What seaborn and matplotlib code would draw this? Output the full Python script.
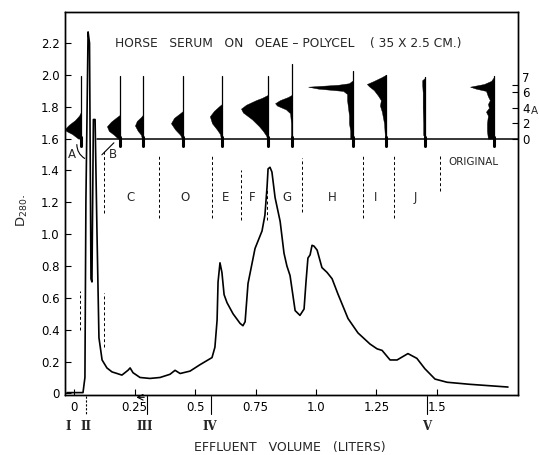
import numpy as np
import pandas as pd
import matplotlib
matplotlib.use("Agg")
import matplotlib.pyplot as plt
import seaborn as sns

# ---------------- data ----------------
volume = [-0.030, 0.036, 0.044, 0.048, 0.057, 0.063, 0.069, 0.073, 0.079, 0.086,
          0.094, 0.102, 0.115, 0.135, 0.156, 0.177, 0.197, 0.222, 0.231, 0.243,
          0.272, 0.313, 0.355, 0.396, 0.417, 0.438, 0.479, 0.520, 0.570, 0.582,
          0.591, 0.595, 0.603, 0.611, 0.620, 0.632, 0.657, 0.686, 0.698, 0.707,
          0.719, 0.748, 0.777, 0.789, 0.798, 0.802, 0.810, 0.818, 0.831, 0.852,
          0.868, 0.880, 0.893, 0.914, 0.934, 0.951, 0.959, 0.967, 0.976, 0.984,
          0.992, 1.005, 1.025, 1.046, 1.067, 1.091, 1.133, 1.174, 1.224, 1.253,
          1.274, 1.307, 1.336, 1.381, 1.418, 1.451, 1.493, 1.543, 1.638, 1.795]
d280 = [0.005, 0.005, 0.10, 1.20, 2.27, 2.20, 0.72, 0.70, 1.72, 1.72,
        1.00, 0.35, 0.21, 0.16, 0.135, 0.125, 0.115, 0.145, 0.16, 0.13,
        0.10, 0.094, 0.10, 0.12, 0.145, 0.125, 0.14, 0.18, 0.225, 0.29,
        0.46, 0.70, 0.82, 0.76, 0.62, 0.57, 0.50, 0.44, 0.425, 0.45,
        0.69, 0.91, 1.02, 1.12, 1.30, 1.41, 1.42, 1.39, 1.23, 1.08,
        0.88, 0.80, 0.74, 0.52, 0.49, 0.53, 0.70, 0.85, 0.87, 0.93,
        0.925, 0.90, 0.79, 0.76, 0.72, 0.625, 0.47, 0.38, 0.31, 0.28,
        0.27, 0.21, 0.21, 0.25, 0.22, 0.155, 0.09, 0.07, 0.057, 0.04]

x_ticks = [0, 0.25, 0.5, 0.75, 1.0, 1.25, 1.5]
x_tick_labels = ["0", "0.25", "0.5", "0.75", "1.0", "1.25", "1.5"]
y_ticks = [0, 0.2, 0.4, 0.6, 0.8, 1.0, 1.2, 1.4, 1.6, 1.8, 2.0, 2.2]
y_tick_labels = ["0", "0.2", "0.4", "0.6", "0.8", "1.0", "1.2", "1.4", "1.6", "1.8", "2.0", "2.2"]
r_ticks = [0, 2, 4, 6, 7]
r_tick_labels = ["0", "2", "4", "6", "7"]

# electrophoretic patterns (right scale)
pattern_x = [0.028, 0.189, 0.284, 0.450, 0.611, 0.802, 0.901, 1.154, 1.290, 1.452, 1.737]
pattern_top = [8.2, 8.2, 8.2, 8.2, 8.2, 8.2, 9.7, 8.8, 8.3, 8.05, 8.2]
prof_A_r = [0, 0.6, 1.0, 1.3, 1.8, 2.4, 3.0, 3.5]
prof_A_w = [0.012, 0.037, 0.062, 0.066, 0.050, 0.025, 0.008, 0.0]
prof_B_r = [0, 0.5, 1.0, 1.6, 2.2, 2.7, 3.1]
prof_B_w = [0.008, 0.025, 0.046, 0.054, 0.037, 0.017, 0.0]
prof_C_r = [0, 0.5, 1.0, 1.7, 2.3, 2.8, 3.1]
prof_C_w = [0.004, 0.008, 0.021, 0.033, 0.025, 0.008, 0.0]
prof_D_r = [0, 0.5, 1.2, 2.0, 2.7, 3.3, 3.6]
prof_D_w = [0.004, 0.012, 0.033, 0.050, 0.037, 0.012, 0.0]
prof_E_r = [0, 0.6, 1.2, 2.0, 2.9, 3.6, 4.2, 4.5]
prof_E_w = [0.004, 0.008, 0.021, 0.041, 0.050, 0.033, 0.012, 0.0]
prof_F_r = [0, 0.4, 1.0, 1.6, 2.5, 3.4, 3.9, 4.4, 5.0, 5.3, 5.7]
prof_F_w = [0.004, 0.008, 0.021, 0.037, 0.066, 0.104, 0.112, 0.091, 0.050, 0.025, 0.0]
prof_G_r = [0, 2.0, 3.3, 3.8, 4.3, 4.6, 5.0, 5.4, 5.7]
prof_G_w = [0.004, 0.004, 0.008, 0.025, 0.062, 0.070, 0.050, 0.017, 0.0]
prof_H_r = [0, 1, 2, 3, 4, 5, 5.8, 6.2, 6.5, 6.75, 7.0, 7.2, 7.6]
prof_H_w = [0.012, 0.012, 0.017, 0.017, 0.021, 0.025, 0.025, 0.041, 0.145, 0.186, 0.062, 0.017, 0.0]
prof_I_r = [0, 2, 3.5, 4.3, 5.0, 5.6, 6.3, 6.8, 7.1, 7.5, 8.0, 8.3]
prof_I_w = [0.004, 0.008, 0.017, 0.025, 0.021, 0.033, 0.050, 0.070, 0.079, 0.050, 0.017, 0.0]
prof_J_r = [0, 0.5, 2, 4, 6, 7, 7.6, 7.9]
prof_J_w = [0.0, 0.008, 0.008, 0.010, 0.010, 0.012, 0.012, 0.0]
prof_O_r = [0, 1, 2, 3, 3.5, 4, 4.5, 5, 5.5, 6.2, 6.5, 6.75, 7.1, 7.5, 8.0]
prof_O_w = [0.025, 0.029, 0.029, 0.025, 0.033, 0.021, 0.025, 0.017, 0.025, 0.033, 0.075, 0.099, 0.041, 0.012, 0.0]
profiles_r = [prof_A_r, prof_B_r, prof_C_r, prof_D_r, prof_E_r, prof_F_r,
              prof_G_r, prof_H_r, prof_I_r, prof_J_r, prof_O_r]
profiles_w = [prof_A_w, prof_B_w, prof_C_w, prof_D_w, prof_E_w, prof_F_w,
              prof_G_w, prof_H_w, prof_I_w, prof_J_w, prof_O_w]
baseline_start = 0.092

# fraction dividers and labels
divider_x = [0.024, 0.123, 0.123, 0.351, 0.570, 0.690, 0.797, 0.943, 1.195, 1.323, 1.514]
divider_top = [0.64, 1.53, 0.63, 1.49, 1.49, 1.40, 1.28, 1.48, 1.49, 1.49, 1.49]
divider_bottom = [0.40, 1.13, 0.29, 1.10, 1.10, 1.09, 1.09, 1.14, 1.10, 1.10, 1.27]
label_text = ["A", "B", "C", "O", "E", "F", "G", "H", "I", "J", "ORIGINAL"]
label_x = [-0.0095, 0.160, 0.231, 0.458, 0.628, 0.736, 0.880, 1.067, 1.249, 1.410, 1.650]
label_y = [1.50, 1.50, 1.23, 1.23, 1.23, 1.23, 1.23, 1.23, 1.23, 1.23, 1.45]

roman_text = ["I", "II", "III", "IV", "V"]
roman_x = [-0.026, 0.048, 0.292, 0.562, 1.460]
mark_x = [0.048, 0.301, 0.565, 1.460]
mark_style = ["dashed", "solid", "solid", "solid"]

# ---------------- plot ----------------
sns.set_style("ticks")
plt.rcParams["font.family"] = ["DejaVu Sans"]

fig = plt.figure(figsize=(5.39, 4.55), dpi=100)
ax = fig.add_axes([65 / 539, 60 / 455, 453 / 539, 383 / 455])

df = pd.DataFrame({"volume": volume, "d280": d280})
sns.lineplot(data=df, x="volume", y="d280", ax=ax, color="black", lw=1.2,
             sort=False, estimator=None)

ax.set_xlim(-0.0385, 1.8365)
ax.set_ylim(-0.01, 2.395)
ax.set_xticks(x_ticks)
ax.set_xticklabels(x_tick_labels)
ax.set_yticks(y_ticks)
ax.set_yticklabels(y_tick_labels)
ax.tick_params(direction="in", length=4, width=0.8, labelsize=8.5, pad=4, colors="black")
ax.set_xlabel("")
ax.set_ylabel("")
for s in ax.spines.values():
    s.set_visible(True)
    s.set_linewidth(1.0)
    s.set_color("black")

# dividers
for xv, top, bot in zip(divider_x, divider_top, divider_bottom):
    ax.plot([xv, xv], [bot, top], color="black", lw=0.7, ls=(0, (3, 2.5)))

for t, xv, yv in zip(label_text, label_x, label_y):
    ax.text(xv, yv, t, ha="center", va="center", fontsize=8.5 if t != "ORIGINAL" else 7.5)

# leader curves A and B
ax.annotate("", xy=(0.053, 1.467), xytext=(0.011, 1.58),
            arrowprops=dict(arrowstyle="-", lw=0.8, color="black",
                            connectionstyle="arc3,rad=0.35"))
ax.annotate("", xy=(0.172, 1.586), xytext=(0.106, 1.486),
            arrowprops=dict(arrowstyle="-", lw=0.8, color="black"))

# title
ax.text(0.492, 0.918, "HORSE   SERUM   ON   OEAE – POLYCEL    ( 35 X 2.5 CM.)",
        transform=ax.transAxes, ha="center", va="center", fontsize=8.8)

# right scale for patterns
ax2 = ax.twinx()
ax2.set_ylim(-33.33, 16.46)
ax2.set_yticks(r_ticks)
ax2.set_yticklabels(r_tick_labels)
ax2.tick_params(direction="in", length=4, width=0.8, labelsize=8.5, pad=3, colors="black")
rlabels = ax2.get_yticklabels()
rlabels[-1].set_va("bottom")
for s in ax2.spines.values():
    s.set_linewidth(1.0)
    s.set_color("black")
ax2.plot([baseline_start, 1.8365], [0, 0], color="black", lw=1.1)
for x0, top, rr, ww in zip(pattern_x, pattern_top, profiles_r, profiles_w):
    rr = np.asarray(rr)
    ww = np.asarray(ww)
    ax2.fill_betweenx(rr, x0 - ww, x0, color="black", lw=0.3)
    ax2.plot([x0, x0], [-0.9, top], color="black", lw=0.9)
    ax2.plot([x0, x0], [-0.9, 0.2], color="black", lw=2.2)
ax2.set_xlim(-0.0385, 1.8365)

# y label
ax.text(-0.095, 0.483, "D$_{280}$.", transform=ax.transAxes, rotation=90,
        ha="center", va="center", fontsize=9.5)
# right label
fig.text(531 / 539, 1 - 111 / 455, "A", ha="left", va="center", fontsize=7.5)

# x label
fig.text(290 / 539, 1 - 448 / 455, "EFFLUENT   VOLUME   (LITERS)", ha="center",
         va="center", fontsize=9)

# roman numerals and marks below axis
tr = ax.get_xaxis_transform()
for t, xv in zip(roman_text, roman_x):
    ax.text(xv, -0.083, t, transform=tr, ha="center", va="center", fontsize=8.5,
            family="DejaVu Serif", fontweight="bold", clip_on=False)
for xv, ls in zip(mark_x, mark_style):
    ax.plot([xv, xv], [-0.003, -0.05], transform=tr, color="black", lw=0.8,
            ls=ls if ls == "solid" else (0, (2, 1.5)), clip_on=False)
ax.annotate("", xy=(0.245, -0.006), xytext=(0.301, -0.006), xycoords=tr,
            textcoords=tr, arrowprops=dict(arrowstyle="->", lw=0.8, color="black"),
            annotation_clip=False)

fig.savefig("out.png", dpi=100)
